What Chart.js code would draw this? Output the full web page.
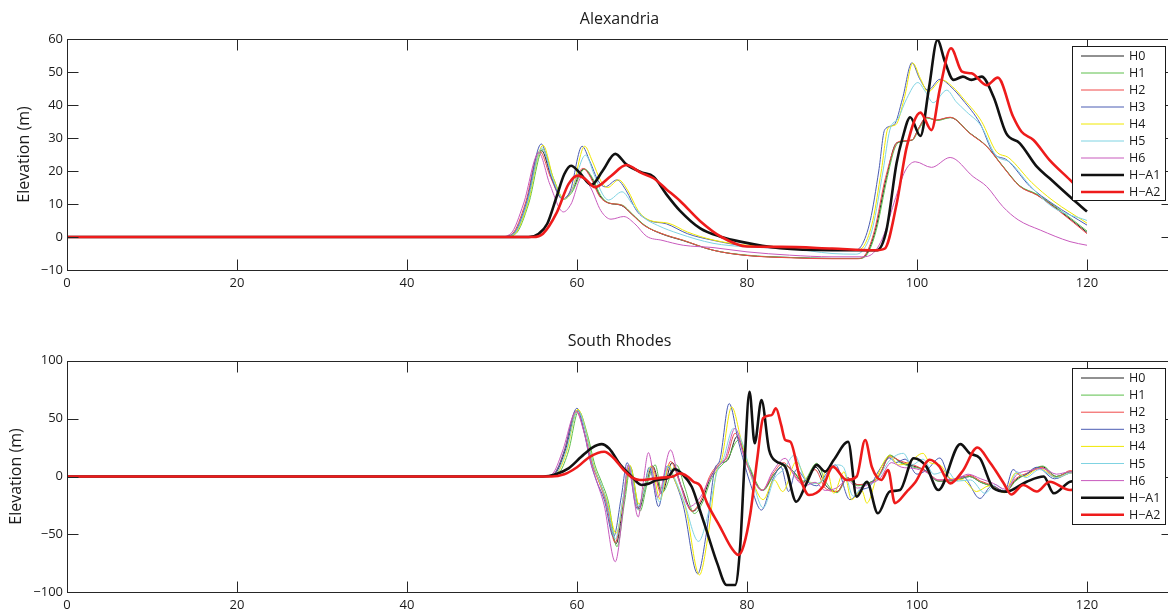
<!DOCTYPE html>
<html><head><meta charset="utf-8">
<script src="https://cdn.jsdelivr.net/npm/chart.js@4.4.1/dist/chart.umd.min.js"></script>
<style>
html,body{margin:0;padding:0;background:#fff;overflow:hidden;width:1168px;height:613px;}
#wrap{position:relative;width:1168px;height:613px;overflow:hidden;}
canvas{position:absolute;left:0;}
#c1{top:0}
#c2{top:306px}
</style></head><body>
<div id="wrap"><canvas id="c1" width="1180" height="306"></canvas><canvas id="c2" width="1180" height="307"></canvas></div>
<script>
// ---------- tick labels / names ----------
const xTicks = [0, 20, 40, 60, 80, 100, 120];
const alexYTicks = [-10, 0, 10, 20, 30, 40, 50, 60];
const rhodesYTicks = [-100, -50, 0, 50, 100];
const seriesNames = ['H0', 'H1', 'H2', 'H3', 'H4', 'H5', 'H6', 'H\u2212A1', 'H\u2212A2'];

// ---------- Alexandria [time, elevation] ----------
const alexH0 = [[0,0],[51.1,0],[52.6,1],[54.1,10],[55.8,26.3],[57,18],[58.4,11.5],[59.3,13.5],[60.8,20.6],[61.7,18],[62.7,12.5],[63.7,10.3],[65.2,9.6],[66.5,6.8],[68,3.4],[70,0.9],[72.5,-1.1],[76,-4],[80,-5.6],[85,-6.2],[90,-6.5],[93.1,-6.5],[94.1,-5],[95.1,2],[96.4,18],[97.6,28.5],[99.4,29.3],[100.2,33],[101.1,36.2],[102.3,35.4],[103.9,36.2],[106.2,31.5],[108.2,27.5],[110.1,21.4],[112.1,15.4],[114.1,12.8],[116.8,7.9],[120,1.4]];
const alexH1 = [[0,0],[51.3,0],[52.8,1],[54.3,10],[56,26.5],[57.2,18],[58.5,11.5],[59.4,13.5],[60.9,20.6],[61.8,18],[62.8,12.5],[63.8,10.3],[65.3,9.7],[66.5,7],[68,3.5],[70,1],[72.5,-1],[76,-4],[80,-5.5],[85,-6.2],[90,-6.5],[93.2,-6.5],[94.2,-5],[95.2,2],[96.5,18],[97.4,27],[98.2,29],[99.5,29.5],[100.3,33],[101.2,36],[102.4,35.3],[104,36.2],[106.2,31.5],[108.2,27.5],[110.1,21.5],[112.1,15.5],[114.1,13],[116.8,8.2],[120,1.8]];
const alexH2 = [[0,0],[51,0],[52.4,1],[53.9,10],[55.6,26],[56.9,18],[58.3,11.5],[59.2,13.5],[60.7,20.8],[61.6,18],[62.6,12.5],[63.7,10.3],[65.2,9.7],[66.4,7],[67.9,3.5],[70,1],[72.5,-1],[76,-4],[80,-5.6],[85,-6.3],[90,-6.6],[93,-6.6],[94,-5],[95,2],[96.3,18],[97.8,28.9],[99.4,29.4],[100.2,33],[101.1,36.3],[102.3,35.5],[103.9,36.3],[106.2,31.4],[108.2,27.4],[110.1,21.3],[112.1,15.3],[114.1,12.7],[116.8,7.7],[120,1]];
const alexH3 = [[0,0],[51,0],[52.5,1],[54,10],[55.8,28.2],[57,18],[58.3,11.5],[59.2,14],[60.6,27.5],[61.5,23],[62.5,17],[63.3,15.2],[64.7,17.3],[65.8,14],[67,8],[68.5,5],[70.5,4],[73,1],[76,-1],[80,-2.8],[85,-3.5],[90,-4],[92.5,-4],[93.5,-2.5],[94.5,5],[95.5,20],[96.2,32.5],[97.3,34],[98.3,42],[99.4,52.8],[100.3,48],[101.3,44.5],[102.7,47.8],[104,45.5],[105.4,41.5],[107.4,34.5],[109,25.4],[110.6,23.3],[113.3,15.3],[116,10],[120,3.6]];
const alexH4 = [[0,0],[51.2,0],[52.7,1],[54.2,10],[56,27.8],[57.2,18],[58.5,11.5],[59.4,14],[60.9,27.5],[61.8,23],[62.8,17],[63.6,15],[64.9,17.3],[66,14],[67.2,8],[68.6,5],[70.7,4.2],[73,1.5],[76,-0.9],[80,-2.5],[85,-3],[90,-3.8],[92.8,-4],[93.8,-2.5],[94.8,5],[95.8,20],[96.6,33],[97.5,34],[98.5,42],[99.5,52.7],[100.4,48],[101.3,44],[102.9,47.6],[104.2,45.5],[105.6,41.5],[107.6,35],[109.3,26],[110.8,24],[113.5,16.5],[116,11],[120,4.2]];
const alexH5 = [[0,0],[51.1,0],[52.6,1],[54.1,10],[55.9,27],[57.1,18],[58.4,11.5],[59.3,13.5],[61,24.8],[62,19],[63,13],[63.7,11.2],[65.3,13.7],[66.5,10],[67.8,6],[69.5,3.5],[72,1],[76,-1.9],[80,-3],[85,-3.5],[90,-5],[92.8,-5.2],[93.8,-3.5],[94.8,3],[96,20],[96.8,32.4],[97.8,36],[98.8,42],[100.1,46.8],[101,44],[101.9,40.7],[103.5,44.5],[104.6,41],[105.8,38],[107.6,33.4],[109.2,25],[111,22.5],[113.5,15],[116,9],[120,5]];
const alexH6 = [[0,0],[50.8,0],[52.2,1],[53.7,10],[55.5,25.5],[56.8,16],[58.4,7.6],[59.3,10],[60.6,18.3],[61.6,15],[62.8,8],[64,5.4],[65.5,6.2],[66.8,4],[68.2,0.2],[70,-1],[72.5,-2.5],[76,-3.2],[80,-4.5],[85,-5.5],[90,-6],[93.5,-6],[94.8,-5],[96,0],[97.5,12],[98.6,20],[99.8,22.8],[101.7,21.1],[103.9,24.1],[106.6,18.3],[108.2,15.3],[110.1,9.2],[111.9,5.2],[114.5,2.1],[118,-1.4],[120,-2.5]];
const alexHA1 = [[0,0],[54.3,0],[55.5,1],[56.5,4],[57.6,12.2],[58.5,19],[59.3,21.6],[60.3,19.5],[61.7,15.8],[63,20],[64.5,25.2],[65.8,22],[67.6,19.6],[69,18.3],[70.5,13],[72.1,8],[74.5,2.6],[77,0],[79.2,-1.4],[83.9,-3.4],[90,-4],[95.3,-4],[96.4,2],[97.6,22.4],[98.3,30],[99.2,36.3],[100.4,30.6],[101.4,45],[102.4,59.7],[103.3,53],[104.3,47.6],[105.4,48.6],[106.4,47.6],[107.6,48.6],[109,42.5],[110.5,31.4],[112.1,28.4],[114.1,21.3],[115.6,17.8],[118,12.2],[120,7.7]];
const alexHA2 = [[0,0],[54.8,0],[56,1],[57.6,7.3],[59,16],[60.1,18.6],[61,17.5],[62.1,15.1],[64,18.5],[65.8,21.8],[67.5,19.5],[69,17.8],[70.5,14.5],[72.1,11],[74.5,4.8],[77,0],[80,-2.9],[84,-3],[90,-3.5],[95,-4],[96.2,-3.5],[97.6,10],[98.8,27.4],[100.4,37.7],[101.7,32.4],[102.7,45],[104,57.2],[105.3,50.1],[106.4,49.6],[108.2,46],[109.5,48.3],[111.3,36.5],[112.3,31.9],[113.7,29.4],[115.6,23.3],[118,17.3],[120,12]];

// ---------- South Rhodes [time, elevation] ----------
const rhoH0 = [[0,0],[56.6,0],[57.6,4],[58.6,22],[60.1,57],[61.1,37],[61.9,10],[62.7,-5],[63.5,-22],[64.6,-58],[65.5,-20],[66.2,9],[67.3,-28],[68.1,-7],[68.9,9],[70,-14],[71.2,12],[72.3,-9],[73.6,-30],[74.7,-21],[75.7,-1],[76.9,11],[77.8,15],[78.8,34.4],[80.1,10],[81.8,-12],[83.2,2],[84.4,10],[85.5,4],[86.6,-5],[88.1,8],[89.3,-8],[90.6,-13],[91.8,-1],[93,-7],[94.5,-5],[95.6,1],[96.8,18],[98.2,12],[99.6,9],[101,5],[102.6,-4],[104.7,-3],[106.2,0],[107.5,-5],[109,-8.8],[110.4,-13],[111.6,-3],[112.9,2],[114.7,8.5],[116.4,0],[118,4],[120,3]];
const rhoH1 = [[0,0],[57,0],[58,4],[59,22],[60.2,56.6],[61.2,37],[62.1,10],[62.9,-5],[63.7,-22],[64.7,-60.6],[65.6,-22],[66.3,8],[67.4,-30],[68.3,-5],[69.2,10],[70,-14],[71.7,10],[72.7,-10],[73.8,-32],[74.8,-22],[75.8,-2],[76.8,8],[77.7,15],[79,31.5],[80.2,10],[81.9,-12],[83.2,2],[84.4,10],[85.5,4],[86.6,-4],[88.2,11.4],[89.3,-5],[90.6,-14],[91.8,-2],[93,-8],[94.5,-5],[95.5,0],[96.8,18.6],[98,12],[99.6,8],[100.8,6],[102.5,-4],[104.7,-3],[106.2,0],[107.5,-5],[109,-9],[110.4,-13],[111.6,-4],[112.8,2],[114.8,9],[116.4,0],[118,4],[120,3]];
const rhoH2 = [[0,0],[56.5,0],[57.5,4],[58.5,22],[59.9,57],[60.9,37],[61.8,10],[62.6,-5],[63.4,-22],[64.5,-57],[65.4,-20],[66.1,10],[67.2,-27],[68,-7],[68.8,9],[69.9,-15],[71,13],[72.2,-8],[73.5,-30],[74.6,-20],[75.6,0],[76.8,12],[77.6,16],[78.6,37.3],[80,10],[81.8,-11.7],[83.1,3],[84.3,12],[85.4,3],[86.6,-6],[88,6],[89.2,-10],[90.6,-13],[91.8,-1],[93,-7],[94.5,-6],[95.6,2],[96.8,17],[98.2,13],[99.6,10],[101,5],[102.6,-3],[104.7,-2],[106.2,1],[107.5,-4],[109,-8],[110.4,-13],[111.6,-2],[113,3],[114.6,8],[116.4,-1],[118,5],[120,3]];
const rhoH3 = [[0,0],[56.5,0],[57.5,4],[58.5,22],[60,59],[60.8,40],[61.5,15],[62.3,-4],[63.2,-20],[64.3,-52],[65.2,-18],[65.9,12],[67.1,-28],[67.9,-10],[68.5,8],[69.6,-26],[70.6,9],[71.3,0],[72.5,-25],[74.2,-84],[75.2,-50],[76.2,6],[76.8,14],[77.9,63],[79,30],[80.3,-4],[81.7,-29],[83,-3],[84,8],[84.9,-13],[85.8,6],[87,-4],[88.2,-8],[89.3,2],[90.4,10],[92.1,-20],[93.3,-12],[94.5,-8],[95.5,5],[96.8,16],[97.5,12],[98.6,15],[100,2],[101.2,6],[102.7,16],[104,-3],[105.4,0],[107.4,-19],[108.8,-8],[110.3,-13],[111.3,6],[112.3,0],[114.1,8],[116.2,-2],[118,3],[120,4]];
const rhoH4 = [[0,0],[56.8,0],[57.8,4],[58.8,22],[60.1,58],[61.1,38],[61.8,14],[62.6,-4],[63.5,-20],[64.6,-49],[65.5,-18],[66.2,10],[67.3,-24],[68,-8],[68.7,9],[69.8,-20],[70.8,10],[71.5,-3],[72.8,-28],[74.4,-85],[75.4,-52],[76.4,4],[77,14],[78.2,60],[79.3,32],[80.5,0],[81.9,-20],[83.2,-3],[84.2,-13],[85.8,12.8],[87,-3],[88.5,-6],[89.4,5.6],[90.2,-14.5],[91.4,4],[92.3,-20],[93.5,-12],[94.1,-23],[95.3,0],[96.8,18],[97.8,10],[99,12],[100.7,20],[101.5,12],[102.7,10],[104,-2],[105.4,-3],[107,-13],[108.5,-8],[110.3,-14],[111.6,3],[112.6,0],[114.4,7],[116.4,-1],[118,3],[120,4]];
const rhoH5 = [[0,0],[56.7,0],[57.7,4],[58.7,22],[60.1,57],[61.1,37],[61.9,10],[62.7,-5],[63.5,-22],[64.5,-54],[65.4,-20],[66.1,10],[67.2,-26],[68,-9],[68.6,8],[69.7,-22],[70.7,9],[71.4,0],[72.6,-22],[74.3,-56],[75.5,-30],[76.5,5],[77.2,15],[78.4,41.6],[79.5,28],[80.6,-2],[81.9,-27],[83.2,-2],[84.3,6],[85.6,18.6],[86.8,-2],[88.2,-6],[89.3,0],[90.6,10],[91.3,8.5],[92.5,-17],[93.6,-8],[95,-5],[96.8,14],[98.4,20],[99.4,10],[100.7,15],[102,2],[103.5,5],[104.7,-4],[106.3,-3],[108,-14.5],[109.2,-7],[110.5,-13],[111.8,4],[112.8,-1],[114.4,6],[116.4,-1],[118,3],[120,4]];
const rhoH6 = [[0,0],[56.3,0],[57.3,4],[58.3,22],[59.9,56],[60.9,36],[61.7,10],[62.4,-6],[63.2,-25],[64.5,-73.6],[65.4,-30],[66,10],[67.2,-35],[67.8,-5],[68.4,20.6],[69.5,-18],[71,22.9],[72,-3],[73.2,-26],[74.5,-18],[75.4,-5],[76.5,8],[77.4,15],[78.6,41.6],[79.8,14],[81.8,-12],[83,4],[84.5,15.7],[85.6,0],[86.8,-8],[88,-5],[89.2,-12],[90.5,-10],[91.8,-3],[93,-10],[94.5,-6],[95.6,-2],[97,12],[98.2,8],[99.6,7],[101,4],[102.5,-3],[104.7,-2],[106,2],[107.5,-2],[109,-6],[110.4,-11],[111.8,2],[113.2,5],[114.8,7],[116.4,2],[118,4],[120,3]];
const rhoHA1 = [[0,0],[56,0],[57.5,2],[59,7],[60.5,17],[61.8,25],[62.9,28],[63.8,24],[65.1,10],[66.3,1],[67.6,-7.3],[68.5,-6],[69.4,-3],[70.6,-1.6],[71.5,6.2],[72.4,2],[73.5,-8.8],[74.5,-30],[75.3,-48],[76.5,-75],[77.6,-93.7],[78.6,-93.7],[79.2,-60],[79.7,10],[80.3,73.2],[80.9,28.7],[81.7,66],[82.6,22.9],[83.5,12.8],[84.5,8.5],[85.8,-21.8],[87,-5.9],[88.2,10],[89.2,4.2],[90.2,14.2],[91.9,30],[92.9,-17.4],[94.1,-4.5],[95.4,-31.8],[96.8,-13],[98,-11.7],[99.6,15.7],[101.1,8.5],[102.5,-11.7],[105.1,28],[106.2,20],[107.4,15.7],[109,-10.2],[110.5,-13.1],[112.9,-4.5],[114.9,0],[116.1,-14.5],[118,-4.5],[120,-3]];
const rhoHA2 = [[0,0],[57,0],[58.5,2],[60,8],[61.5,17],[63.2,21.4],[64.3,16],[65.5,5.6],[66.5,-1],[67.4,-3],[68.5,-2.4],[70,-1],[71.3,0],[72.1,2.7],[73,0],[73.7,-4.5],[74.5,-8],[75.3,-23],[76.8,-43],[78.2,-62],[79,-67.8],[79.6,-60],[80.4,-31.8],[81.2,15],[81.9,50.3],[82.9,53],[83.4,58.9],[84,45],[84.5,31.5],[85.1,30],[86.2,0],[87.3,-16],[88.9,-9],[90.1,8.5],[91.7,-3],[92.9,0],[93.9,31.5],[94.7,8],[95.8,-3],[96.6,5.6],[97.4,-23],[98.8,-13],[99.8,-5],[101.5,14.5],[102.6,9],[103.9,-5.9],[105.4,5],[107.1,25],[108.5,13],[109.2,5.6],[110.2,-5.9],[111.1,-15.5],[112.5,-7.3],[114.1,-13],[115.6,-4.5],[118,-11.7],[120,-8]];

// ---------- styles ----------
const seriesColors = ['#222222', '#5cbf4a', '#f04848', '#4a5cb3', '#f0e800', '#7fd3e2', '#c85abd', '#111111', '#ee1b1b'];
const seriesWidths = [1, 1, 1, 1, 1, 1, 1, 2.6, 2.6];
const FONT = "'Open Sans', 'Noto Sans', sans-serif";
const minus = v => String(v).replace('-', '\u2212');

const decor = {
  id: 'decor',
  afterDraw(chart, args, o) {
    const {ctx, chartArea: a, scales: {x, y}} = chart;
    ctx.save();
    // title centred over the plot area
    ctx.fillStyle = '#1a1a1a';
    ctx.font = "16px " + FONT;
    ctx.textAlign = 'center';
    ctx.textBaseline = 'middle';
    ctx.fillText(o.title, (a.left + a.right) / 2, o.titleY);
    // frame and inward ticks
    ctx.strokeStyle = '#262626';
    ctx.lineWidth = 1;
    const L = Math.round(a.left) + 0.5, R = Math.round(a.right) + 0.5, T = Math.round(a.top) + 0.5, B = Math.round(a.bottom) + 0.5;
    ctx.strokeRect(L, T, R - L, B - T);
    ctx.beginPath();
    const TL = 11;
    x.ticks.forEach(t => {
      const px = Math.round(x.getPixelForValue(t.value)) + 0.5;
      ctx.moveTo(px, B); ctx.lineTo(px, B - TL);
      ctx.moveTo(px, T); ctx.lineTo(px, T + TL);
    });
    y.ticks.forEach(t => {
      const py = Math.round(y.getPixelForValue(t.value)) + 0.5;
      ctx.moveTo(L, py); ctx.lineTo(L + TL, py);
      ctx.moveTo(R, py); ctx.lineTo(R - TL, py);
    });
    ctx.stroke();
    // legend box
    const g = o.legend;
    ctx.fillStyle = '#ffffff';
    ctx.fillRect(g.x0, g.y0, g.x1 - g.x0, g.y1 - g.y0);
    ctx.strokeStyle = '#1a1a1a';
    ctx.lineWidth = 1;
    ctx.strokeRect(g.x0 + 0.5, g.y0 + 0.5, g.x1 - g.x0, g.y1 - g.y0);
    ctx.font = "12.5px " + FONT;
    ctx.textBaseline = 'middle';
    ctx.textAlign = 'left';
    chart.data.datasets.forEach((ds, i) => {
      const yy = g.row0 + i * g.step;
      ctx.beginPath();
      ctx.strokeStyle = ds.borderColor;
      ctx.lineWidth = ds.borderWidth;
      ctx.moveTo(1081, yy); ctx.lineTo(1124, yy);
      ctx.stroke();
      ctx.fillStyle = '#1a1a1a';
      ctx.fillText(ds.label, 1129, yy + 0.5);
    });
    ctx.restore();
  }
};

function makeChart(id, title, series, yMin, yMax, yTicks, geo) {
  const datasets = series.map((pts, i) => ({
    label: seriesNames[i],
    data: pts.map(p => ({x: p[0], y: p[1]})),
    borderColor: seriesColors[i],
    backgroundColor: seriesColors[i],
    borderWidth: seriesWidths[i],
    pointRadius: 0,
    fill: false,
    cubicInterpolationMode: 'monotone',
    order: series.length - i
  }));
  return new Chart(document.getElementById(id), {
    type: 'line',
    data: {datasets},
    plugins: [decor],
    options: {
      responsive: false,
      animation: false,
      events: [],
      layout: {padding: {left: 0, right: 8, top: geo.plotTop, bottom: 0}},
      plugins: {
        legend: {display: false},
        tooltip: {enabled: false},
        title: {display: false},
        decor: {legend: geo.legend, title: title, titleY: geo.titleY}
      },
      scales: {
        x: {
          type: 'linear', min: 0, max: 130,
          afterBuildTicks: s => { s.ticks = xTicks.map(v => ({value: v})); },
          afterFit: s => { s.height = geo.xHeight; },
          grid: {display: false, drawTicks: false},
          border: {display: false},
          ticks: {color: '#1a1a1a', font: {family: FONT, size: 13}, padding: 5, maxRotation: 0, autoSkip: false,
                  callback: v => minus(v)}
        },
        y: {
          type: 'linear', min: yMin, max: yMax,
          afterBuildTicks: s => { s.ticks = yTicks.map(v => ({value: v})); },
          afterFit: s => { s.width = 67; },
          grid: {display: false, drawTicks: false},
          border: {display: false},
          ticks: {color: '#1a1a1a', font: {family: FONT, size: 13}, padding: 4, autoSkip: false,
                  callback: v => minus(v)},
          title: {display: true, text: 'Elevation (m)', color: '#1a1a1a',
                  font: {family: FONT, size: 16, weight: 'normal'},
                  padding: {top: geo.yTitlePad, bottom: 0}}
        }
      }
    }
  });
}

makeChart('c1', 'Alexandria',
  [alexH0, alexH1, alexH2, alexH3, alexH4, alexH5, alexH6, alexHA1, alexHA2],
  -10, 60, alexYTicks,
  {plotTop: 39, titleY: 19.5, xHeight: 36, yTitlePad: 14.4,
   legend: {x0: 1072, y0: 46, x1: 1165, y1: 200, row0: 56, step: 17}});

makeChart('c2', 'South Rhodes',
  [rhoH0, rhoH1, rhoH2, rhoH3, rhoH4, rhoH5, rhoH6, rhoHA1, rhoHA2],
  -100, 100, rhodesYTicks,
  {plotTop: 54.7, titleY: 35, xHeight: 20.7, yTitlePad: 6.4,
   legend: {x0: 1072, y0: 62, x1: 1165, y1: 218, row0: 72, step: 17.1}});
</script>
</body></html>
